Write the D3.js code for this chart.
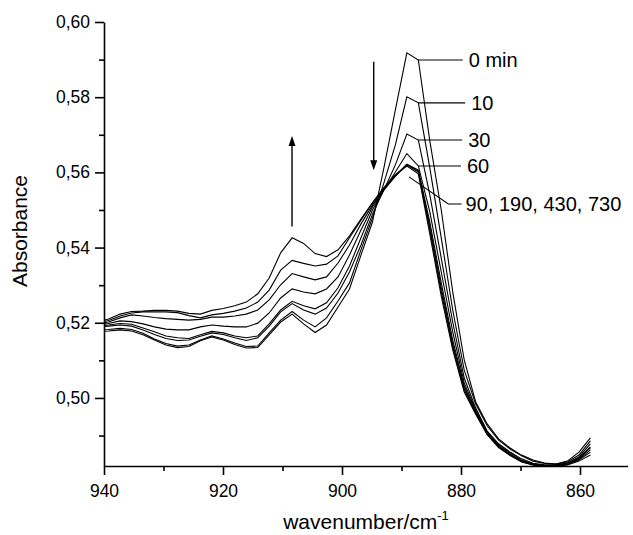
<!DOCTYPE html>
<html>
<head>
<meta charset="utf-8">
<script src="https://cdn.jsdelivr.net/npm/d3@7"></script>
<style>
  body { margin: 0; background: #fff; }
  svg { display: block; font-family: "Liberation Sans", Arial, sans-serif; }
  .axis path, .axis line { stroke: #000; stroke-width: 1.6; }
  .axis text { font-size: 17.5px; fill: #000; }
  .spectrum { fill: none; stroke: #000; stroke-width: 1.1; }
  .leader { stroke: #000; stroke-width: 1.1; fill: none; }
  .label { font-size: 20px; fill: #000; }
  .title { font-size: 21px; fill: #000; }
</style>
</head>
<body>
<svg width="633" height="535"></svg>
<script>
// wavenumber grid (cm-1), one point every ~1.93 cm-1
var wavenumbers = [941.16, 939.23, 937.30, 935.37, 933.44, 931.52, 929.59, 927.66, 925.73, 923.80,
  921.88, 919.95, 918.02, 916.09, 914.16, 912.24, 910.31, 908.38, 906.45, 904.52,
  902.60, 900.67, 898.74, 896.81, 894.88, 892.96, 891.03, 889.10, 887.17, 885.24,
  883.32, 881.39, 879.46, 877.53, 875.60, 873.68, 871.75, 869.82, 867.89, 865.96,
  864.04, 862.11, 860.18, 858.25];

// absorbance spectra, one array per time (min)
var abs0 = [0.5177, 0.5178, 0.5181, 0.5178, 0.5168, 0.5154, 0.5141, 0.5134, 0.5137, 0.5152,
  0.5162, 0.5154, 0.5142, 0.5133, 0.5134, 0.5168, 0.5202, 0.5223, 0.5197, 0.5174,
  0.5194, 0.5242, 0.5290, 0.5380, 0.5468, 0.5612, 0.5766, 0.5918, 0.5899, 0.5684,
  0.5500, 0.5282, 0.5101, 0.4989, 0.4931, 0.4891, 0.4867, 0.4848, 0.4835, 0.4827,
  0.4824, 0.4832, 0.4856, 0.4894];
var abs10 = [0.5181, 0.5182, 0.5185, 0.5182, 0.5172, 0.5157, 0.5145, 0.5138, 0.5141, 0.5154,
  0.5165, 0.5157, 0.5146, 0.5137, 0.5138, 0.5173, 0.5207, 0.5230, 0.5207, 0.5189,
  0.5213, 0.5258, 0.5306, 0.5394, 0.5479, 0.5572, 0.5673, 0.5801, 0.5785, 0.5612,
  0.5426, 0.5234, 0.5074, 0.4984, 0.4926, 0.4888, 0.4864, 0.4846, 0.4832, 0.4826,
  0.4824, 0.4830, 0.4848, 0.4886];
var abs30 = [0.5189, 0.5191, 0.5194, 0.5191, 0.5181, 0.5169, 0.5158, 0.5153, 0.5154, 0.5164,
  0.5173, 0.5169, 0.5160, 0.5153, 0.5160, 0.5191, 0.5229, 0.5251, 0.5234, 0.5223,
  0.5239, 0.5279, 0.5335, 0.5407, 0.5489, 0.5553, 0.5620, 0.5702, 0.5686, 0.5540,
  0.5372, 0.5202, 0.5053, 0.4973, 0.4912, 0.4878, 0.4856, 0.4838, 0.4826, 0.4822,
  0.4822, 0.4827, 0.4843, 0.4878];
var abs60 = [0.5191, 0.5194, 0.5198, 0.5196, 0.5186, 0.5176, 0.5165, 0.5160, 0.5158, 0.5168,
  0.5177, 0.5173, 0.5165, 0.5160, 0.5165, 0.5197, 0.5234, 0.5257, 0.5245, 0.5237,
  0.5253, 0.5293, 0.5351, 0.5426, 0.5500, 0.5553, 0.5601, 0.5650, 0.5617, 0.5495,
  0.5335, 0.5176, 0.5040, 0.4968, 0.4910, 0.4875, 0.4854, 0.4835, 0.4824, 0.4820,
  0.4820, 0.4826, 0.4840, 0.4870];
var abs90 = [0.5194, 0.5198, 0.5205, 0.5203, 0.5197, 0.5189, 0.5183, 0.5181, 0.5181, 0.5189,
  0.5194, 0.5191, 0.5189, 0.5189, 0.5199, 0.5226, 0.5266, 0.5290, 0.5282, 0.5277,
  0.5290, 0.5322, 0.5380, 0.5447, 0.5508, 0.5553, 0.5590, 0.5622, 0.5606, 0.5468,
  0.5306, 0.5154, 0.5032, 0.4965, 0.4907, 0.4872, 0.4851, 0.4832, 0.4823, 0.4820,
  0.4820, 0.4824, 0.4838, 0.4867];
var abs190 = [0.5197, 0.5202, 0.5213, 0.5221, 0.5218, 0.5214, 0.5211, 0.5209, 0.5207, 0.5209,
  0.5215, 0.5215, 0.5218, 0.5223, 0.5234, 0.5261, 0.5301, 0.5331, 0.5322, 0.5314,
  0.5322, 0.5359, 0.5407, 0.5463, 0.5513, 0.5556, 0.5590, 0.5621, 0.5604, 0.5457,
  0.5293, 0.5144, 0.5027, 0.4963, 0.4904, 0.4871, 0.4850, 0.4832, 0.4823, 0.4819,
  0.4819, 0.4824, 0.4836, 0.4862];
var abs430 = [0.5199, 0.5206, 0.5218, 0.5226, 0.5229, 0.5229, 0.5229, 0.5227, 0.5219, 0.5213,
  0.5221, 0.5225, 0.5231, 0.5239, 0.5255, 0.5287, 0.5340, 0.5366, 0.5358, 0.5351,
  0.5356, 0.5378, 0.5426, 0.5473, 0.5519, 0.5559, 0.5593, 0.5620, 0.5601, 0.5447,
  0.5282, 0.5136, 0.5021, 0.4960, 0.4903, 0.4870, 0.4848, 0.4831, 0.4822, 0.4819,
  0.4819, 0.4823, 0.4835, 0.4856];
var abs730 = [0.5202, 0.5210, 0.5223, 0.5230, 0.5231, 0.5233, 0.5233, 0.5231, 0.5225, 0.5223,
  0.5233, 0.5238, 0.5245, 0.5255, 0.5277, 0.5319, 0.5386, 0.5426, 0.5411, 0.5384,
  0.5376, 0.5394, 0.5431, 0.5476, 0.5519, 0.5559, 0.5593, 0.5617, 0.5596, 0.5436,
  0.5271, 0.5128, 0.5016, 0.4957, 0.4902, 0.4868, 0.4847, 0.4830, 0.4822, 0.4819,
  0.4819, 0.4822, 0.4832, 0.4848];

var spectra = [abs0, abs10, abs30, abs60, abs90, abs190, abs430, abs730];

var yMajorTicks = [0.50, 0.52, 0.54, 0.56, 0.58, 0.60];
var yMinorTicks = [0.49, 0.51, 0.53, 0.55, 0.57, 0.59];
var xMajorTicks = [940, 920, 900, 880, 860];
var xMinorTicks = [930, 910, 890, 870];

var labelTexts = ['0 min', '10', '30', '60', '90, 190, 430, 730'];

var svg = d3.select('svg');
var plotLeft = 104, plotRight = 627.6, plotTop = 22, plotBottom = 466;

var x = d3.scaleLinear()
  .domain([940, 852])
  .range([plotLeft, plotRight]);

var y = d3.scaleLinear()
  .domain([0.4819, 0.60])
  .range([plotBottom, plotTop]);

var comma = function(d) { return d3.format('.2f')(d).replace('.', ','); };

// axes: minor ticks first, then major with labels
svg.append('g')
  .attr('class', 'axis')
  .attr('transform', 'translate(' + plotLeft + ',0)')
  .call(d3.axisLeft(y).tickValues(yMinorTicks).tickSize(5).tickSizeOuter(0).tickFormat(''))
  .select('.domain').remove();

svg.append('g')
  .attr('class', 'axis')
  .attr('transform', 'translate(' + plotLeft + ',0)')
  .call(d3.axisLeft(y).tickValues(yMajorTicks).tickSize(9).tickSizeOuter(0).tickPadding(5).tickFormat(comma));

svg.append('g')
  .attr('class', 'axis')
  .attr('transform', 'translate(0,' + plotBottom + ')')
  .call(d3.axisBottom(x).tickValues(xMinorTicks).tickSize(5).tickSizeOuter(0).tickFormat(''))
  .select('.domain').remove();

svg.append('g')
  .attr('class', 'axis')
  .attr('transform', 'translate(0,' + plotBottom + ')')
  .call(d3.axisBottom(x).tickValues(xMajorTicks).tickSize(9).tickSizeOuter(0).tickPadding(10).tickFormat(d3.format('d')));

// spectra
svg.append('clipPath')
  .attr('id', 'plot')
  .append('rect')
  .attr('x', plotLeft)
  .attr('y', 0)
  .attr('width', plotRight - plotLeft)
  .attr('height', plotBottom + 2);

var line = d3.line()
  .x(function(d, i) { return x(wavenumbers[i]); })
  .y(function(d) { return y(d); });

svg.append('g')
  .attr('clip-path', 'url(#plot)')
  .selectAll('.spectrum')
  .data(spectra)
  .enter()
  .append('path')
  .attr('class', 'spectrum')
  .attr('d', line);

// labels with leader lines
var peakIndex = wavenumbers.indexOf(887.17);
var labelled = [abs0, abs10, abs30, abs60];
var leaderEnds = [879.7, 879.3, 879.8, 880.0];

labelled.forEach(function(s, i) {
  var ly = y(s[peakIndex]);
  svg.append('line')
    .attr('class', 'leader')
    .attr('x1', x(wavenumbers[peakIndex]))
    .attr('y1', ly)
    .attr('x2', x(leaderEnds[i]))
    .attr('y2', ly);
  svg.append('text')
    .attr('class', 'label')
    .attr('x', x(leaderEnds[i]) + 6)
    .attr('y', ly + 2)
    .attr('dominant-baseline', 'middle')
    .text(labelTexts[i]);
});

var groupLeader = [[888.74, 0.5588], [882.13, 0.5516], [879.9, 0.5516]];
svg.append('path')
  .attr('class', 'leader')
  .attr('d', d3.line().x(function(d) { return x(d[0]); }).y(function(d) { return y(d[1]); })(groupLeader));
svg.append('text')
  .attr('class', 'label')
  .attr('x', x(879.9) + 4)
  .attr('y', y(0.5516) + 2)
  .attr('dominant-baseline', 'middle')
  .text(labelTexts[4]);

// arrows: band at 908 grows, band at 889 decreases
function arrow(wn, from, to) {
  var x0 = x(wn), y0 = y(from), y1 = y(to);
  var dir = y1 > y0 ? 1 : -1;
  svg.append('line')
    .attr('x1', x0).attr('y1', y0)
    .attr('x2', x0).attr('y2', y1 - dir * 8)
    .attr('stroke', '#000')
    .attr('stroke-width', 1.4);
  svg.append('path')
    .attr('d', 'M' + (x0 - 3.5) + ',' + (y1 - dir * 10) + 'L' + (x0 + 3.5) + ',' + (y1 - dir * 10) + 'L' + x0 + ',' + y1 + 'Z')
    .attr('fill', '#000');
}
arrow(908.4, 0.5456, 0.5697);
arrow(894.67, 0.5894, 0.5606);

// axis titles
svg.append('text')
  .attr('class', 'title')
  .attr('transform', 'translate(27,231) rotate(-90)')
  .attr('text-anchor', 'middle')
  .text('Absorbance');

var xt = svg.append('text')
  .attr('class', 'title')
  .attr('x', 366)
  .attr('y', 529)
  .attr('text-anchor', 'middle');
xt.append('tspan').text('wavenumber/cm');
xt.append('tspan').attr('dy', -9).style('font-size', '13px').text('-1');
</script>
</body>
</html>
